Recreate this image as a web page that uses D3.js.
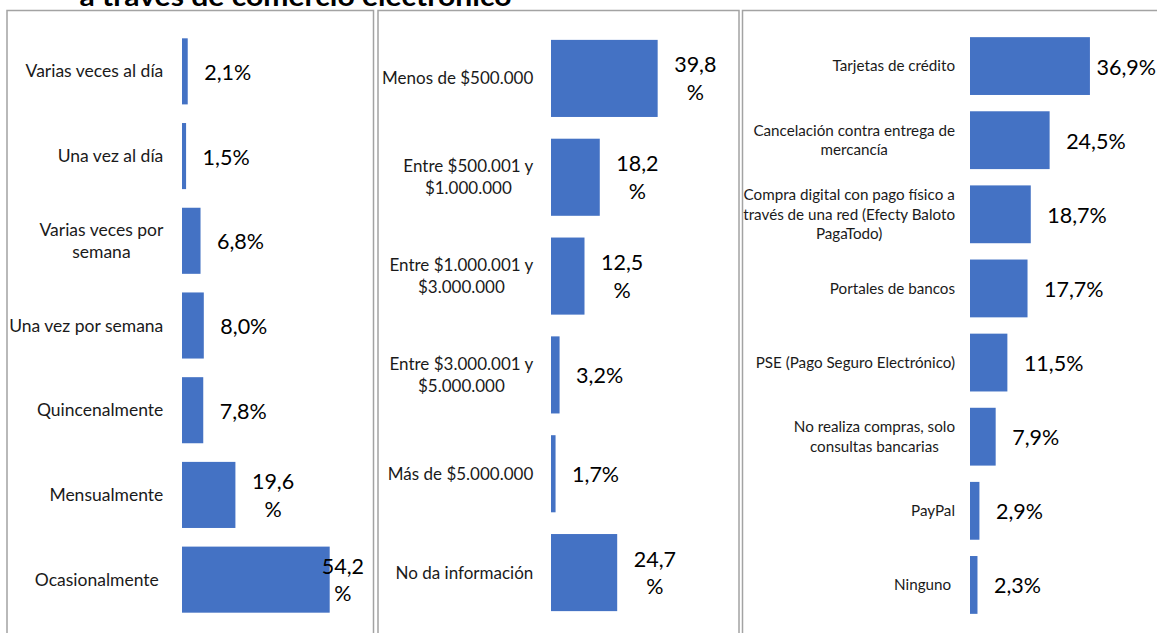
<!DOCTYPE html>
<html>
<head>
<meta charset="utf-8">
<script src="https://cdn.jsdelivr.net/npm/d3@7"></script>
<style>
  body { margin: 0; background: #fff; }
  svg text { font-family: Lato, "Open Sans", sans-serif; white-space: pre; }
</style>
</head>
<body>
<svg id="chart" width="1157" height="633"></svg>
<script>
var titulo = "a través de comercio electrónico";

// Frecuencia de compra
var frecuenciaCats = ["Varias veces al día", "Una vez al día", "Varias veces por\nsemana",
    "Una vez por semana", "Quincenalmente", "Mensualmente", "Ocasionalmente "];
var frecuenciaVals = [2.1, 1.5, 6.8, 8.0, 7.8, 19.6, 54.2];

// Monto de las compras
var montoCats = ["Menos de $500.000", "Entre $500.001 y\n$1.000.000", "Entre $1.000.001 y\n$3.000.000",
    "Entre $3.000.001 y\n$5.000.000", "Más de $5.000.000", "No da información"];
var montoVals = [39.8, 18.2, 12.5, 3.2, 1.7, 24.7];

// Medio de pago
var medioCats = ["Tarjetas de crédito", "Cancelación contra entrega de\nmercancía",
    "Compra digital con pago físico a\ntravés de una red (Efecty Baloto\nPagaTodo)",
    "Portales de bancos", "PSE (Pago Seguro Electrónico)",
    "No realiza compras, solo\nconsultas bancarias", "PayPal", "Ninguno "];
var medioVals = [36.9, 24.5, 18.7, 17.7, 11.5, 7.9, 2.9, 2.3];

var barColor = "#4472C4";
var plotTop = 29, plotBottom = 622;

var panels = [
    { cats: frecuenciaCats, vals: frecuenciaVals, left: 7, right: 373.5,
      x0: 182, xMax: 60, xRight: 345.5, catSize: 17.5, catLine: 22.3, catGap: 18.7,
      wrapVals: true, limit: 364 },
    { cats: montoCats, vals: montoVals, left: 378, right: 739,
      x0: 551, xMax: 45, xRight: 671.6, catSize: 17, catLine: 22.3, catGap: 17.7,
      wrapVals: true, limit: 730 },
    { cats: medioCats, vals: medioVals, left: 742.5, right: 1175,
      x0: 970, xMax: 40, xRight: 1100, catSize: 15.2, catLine: 19.2, catGap: 15,
      wrapVals: false, limit: 1156 }
];

var svg = d3.select("#chart");
var fmt = d3.format(".1f");
function pct(v) { return fmt(v).replace(".", ","); }

// title (only its lower part shows in the picture)
svg.append("text")
    .attr("x", 295.5)
    .attr("y", 6)
    .attr("text-anchor", "middle")
    .attr("textLength", 432)
    .attr("lengthAdjust", "spacingAndGlyphs")
    .style("font-weight", "bold")
    .style("font-size", "27px")
    .attr("fill", "#000")
    .text(titulo);

panels.forEach(function(p) {
    // frame
    svg.append("rect")
        .attr("x", p.left).attr("y", 10.5)
        .attr("width", p.right - p.left).attr("height", 640)
        .attr("fill", "none")
        .attr("stroke", "#a3a3a3")
        .attr("stroke-width", 1.5);

    var x = d3.scaleLinear().domain([0, p.xMax]).range([p.x0, p.xRight]);
    var y = d3.scaleBand().domain(p.cats).range([plotTop, plotBottom])
        .paddingInner(0.22).paddingOuter(0.11);

    var g = svg.append("g");

    g.selectAll("rect.bar").data(p.vals).enter().append("rect")
        .attr("class", "bar")
        .attr("x", x(0))
        .attr("y", function(d, i) { return y(p.cats[i]); })
        .attr("width", function(d) { return x(d) - x(0); })
        .attr("height", y.bandwidth())
        .attr("fill", barColor);

    // category labels, centred lines, block right aligned
    p.cats.forEach(function(c, i) {
        var lines = c.split("\n");
        var cy = y(c) + y.bandwidth() / 2;
        var t = g.append("text")
            .style("font-size", p.catSize + "px")
            .attr("fill", "#1a1a1a")
            .attr("text-anchor", "middle");
        var spans = lines.map(function(l, k) {
            return t.append("tspan")
                .attr("y", cy + p.catSize * 0.35 + (k - (lines.length - 1) / 2) * p.catLine)
                .text(l);
        });
        var w = d3.max(spans, function(s) { return s.node().getComputedTextLength(); });
        var cx = x(0) - p.catGap - w / 2;
        spans.forEach(function(s) { s.attr("x", cx); });
    });

    // value labels
    p.vals.forEach(function(v, i) {
        var cy = y(p.cats[i]) + y.bandwidth() / 2;
        var lines = (p.wrapVals && v >= 10) ? [pct(v), "%"] : [pct(v) + "%"];
        var t = g.append("text")
            .style("font-size", "21.5px")
            .attr("fill", "#000")
            .attr("text-anchor", "middle");
        var base = lines.length > 1 ? cy - 6 : cy + 8.5;
        var spans = lines.map(function(l, k) {
            return t.append("tspan").attr("y", base + k * 27.7).text(l);
        });
        var w = d3.max(spans, function(s) { return s.node().getComputedTextLength(); });
        var cx = x(v) + 16.5 + w / 2;
        if (cx + w / 2 > p.limit) cx = p.limit - w / 2;
        spans.forEach(function(s) { s.attr("x", cx); });
    });
});
</script>
</body>
</html>
